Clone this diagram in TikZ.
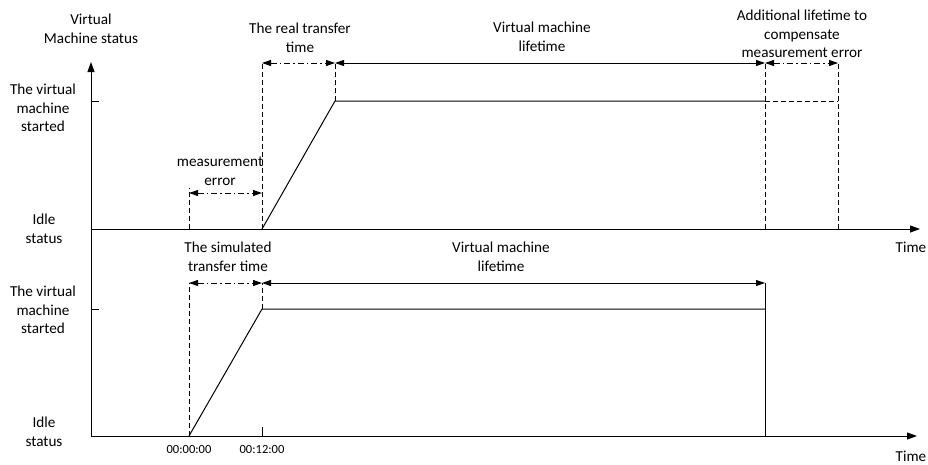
\documentclass[tikz,border=0pt]{standalone}
\usepackage{fontspec}
\setmainfont{Carlito}
\usetikzlibrary{arrows.meta}
\begin{document}
\begin{tikzpicture}[x=1pt,y=-1pt,
  axisline/.style={line width=1pt,-{Triangle[length=10pt,width=7pt]}},
  plainline/.style={line width=1pt},
  guide/.style={line width=0.9pt,dash pattern=on 5pt off 3pt},
  span/.style={line width=0.9pt,{Triangle[length=9pt,width=6pt]}-{Triangle[length=9pt,width=6pt]}},
  spandot/.style={span,dash pattern=on 6pt off 3pt on 1.5pt off 3pt},
  lbl/.style={align=center,inner sep=0pt,font=\fontsize{15.2}{18.5}\selectfont},
  stamp/.style={inner sep=0pt,font=\fontsize{12.5}{14}\selectfont}]
\useasboundingbox (0,0) rectangle (928,464);

% axes
\coordinate (O1) at (91,229);
\coordinate (O2) at (91,436);
\coordinate (Ytop) at (91,62);
\coordinate (X1end) at (920,229);
\coordinate (X2end) at (917,436);
\draw[axisline] (O2) -- (Ytop);
\draw[axisline] (O1) -- (X1end);
\draw[axisline] (O2) -- (X2end);

% level ticks
\coordinate (T1a) at (91,101);  \coordinate (T1b) at (99,101);
\coordinate (T2a) at (91,309);  \coordinate (T2b) at (99,309);
\draw[plainline] (T1a) -- (T1b);
\draw[plainline] (T2a) -- (T2b);

% upper timeline: real transfer
\coordinate (A0) at (189,229);
\coordinate (A1) at (262,229);
\coordinate (B1) at (335,101);
\coordinate (C1) at (765,101);
\coordinate (D1) at (838,101);
\coordinate (C0) at (765,229);
\coordinate (D0) at (838,229);
\coordinate (A0t) at (189,188);
\coordinate (A1t) at (262,62);
\coordinate (B1t) at (335,62);
\coordinate (C1t) at (765,62);
\coordinate (D1t) at (838,62);
\draw[guide] (A0) -- (A0t);
\draw[guide] (A1) -- (A1t);
\draw[guide] (B1) -- (B1t);
\draw[guide] (C0) -- (C1t);
\draw[guide] (D0) -- (D1t);
\draw[plainline] (A1) -- (B1) -- (C1);
\draw[guide] (C1) -- (D1);

\coordinate (S1) at (262,63); \coordinate (S2) at (335,63);
\coordinate (S3) at (765,63); \coordinate (S4) at (838,63);
\coordinate (M1) at (189,193); \coordinate (M2) at (262,193);
\draw[spandot] (S1) -- (S2);
\draw[span] (S2) -- (S3);
\draw[spandot] (S3) -- (S4);
\draw[spandot] (M1) -- (M2);

% lower timeline: simulated transfer
\coordinate (E0) at (189,436);
\coordinate (E1) at (262,309);
\coordinate (F1) at (765,309);
\coordinate (F0) at (765,436);
\coordinate (E0t) at (189,283);
\coordinate (E1t) at (262,283);
\coordinate (F1t) at (765,283);
\coordinate (K0) at (262,436);
\coordinate (K1) at (262,427);
\draw[guide] (E0) -- (E0t);
\draw[guide] (E1) -- (E1t);
\draw[plainline] (E0) -- (E1) -- (F1);
\draw[plainline] (F1t) -- (F0);
\draw[plainline] (K0) -- (K1);
\draw[spandot] (E0t) -- (E1t);
\draw[span] (E1t) -- (F1t);

% labels
\node[lbl] (ylab) at (91,29) {Virtual\\Machine status};
\node[lbl] (on1) at (43,108) {The virtual\\machine\\started};
\node[lbl] (idle1) at (44,229) {Idle\\status};
\node[lbl] (on2) at (43,310) {The virtual\\machine\\started};
\node[lbl] (idle2) at (44,432) {Idle\\status};
\node[lbl] (time1) at (911,247) {Time};
\node[lbl] (time2) at (911,456) {Time};
\node[lbl] (real) at (300,38) {The real transfer\\time};
\node[lbl] (life1) at (542,37) {Virtual machine\\lifetime};
\node[lbl] (extra) at (802,34) {Additional lifetime to\\compensate\\measurement error};
\node[lbl] (merr) at (220,171) {measurement\\error};
\node[lbl] (sim) at (228,257) {The simulated\\transfer time};
\node[lbl] (life2) at (501,257) {Virtual machine\\lifetime};
\node[stamp] (t0) at (189,449) {00:00:00};
\node[stamp] (t12) at (262,449) {00:12:00};
\end{tikzpicture}
\end{document}
